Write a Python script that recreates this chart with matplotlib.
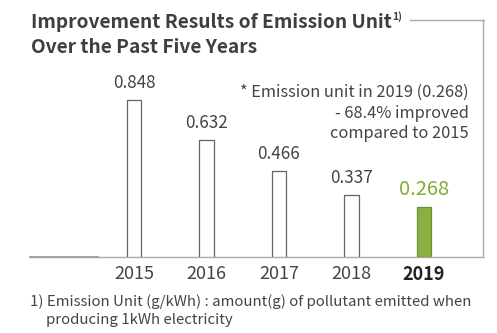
import matplotlib
matplotlib.use("Agg")
import matplotlib.pyplot as plt
from matplotlib.lines import Line2D

plt.rcParams['font.family'] = ['Noto Sans CJK KR', 'DejaVu Sans']

years = ['2015', '2016', '2017', '2018', '2019']
values = [0.848, 0.632, 0.466, 0.337, 0.268]
value_labels = ['0.848', '0.632', '0.466', '0.337', '0.268']

W, H = 497, 333
fig = plt.figure(figsize=(W / 100, H / 100), dpi=100)

def fx(px):
    return px / W

def fy(py):
    return 1 - py / H

# axes box: left 30px, right 483px, baseline at 257px, top at 20px
ax = fig.add_axes([fx(30), fy(257), fx(483 - 30), (257 - 20) / H])
x = list(range(len(years)))
ax.set_xlim(-1.434, 4.814)
ax.set_ylim(0, 237 / 185)

text_col = '#444444'
green = '#8cb040'
green_edge = '#6f8f2f'
green_text = '#80ad33'
light = 'light'

colors = ['white'] * 4 + [green]
edges = ['#666666'] * 4 + [green_edge]
bars = ax.bar(x, values, width=0.2, color=colors, edgecolor=edges,
              linewidth=0.9, zorder=3)
for b in bars:
    b.set_joinstyle('round')

for i, (v, lab) in enumerate(zip(values, value_labels)):
    last = i == len(values) - 1
    ax.annotate(lab, (i, v), xytext=(0, 5.5), textcoords='offset points',
                ha='center', va='bottom',
                fontsize=14.5 if last else 12.3, fontweight=light,
                color=green_text if last else text_col)

ax.set_xticks(x)
ax.set_xticklabels(years, fontsize=13, color=text_col, fontweight=light)
ax.get_xticklabels()[-1].set_fontweight('bold')
ax.get_xticklabels()[-1].set_color('#222222')
ax.tick_params(axis='x', length=0, pad=6)
ax.set_yticks([])
for s in ['left', 'top']:
    ax.spines[s].set_visible(False)
ax.spines['bottom'].set_color('#aaaaaa')
ax.spines['bottom'].set_linewidth(1.0)
ax.spines['right'].set_color('#aaaaaa')
ax.spines['right'].set_linewidth(1.0)
ax.patch.set_visible(False)

# darker stub on the left of the baseline
fig.add_artist(Line2D([fx(30), fx(98)], [fy(257), fy(257)],
                      color='#999999', lw=1.2))
# frame line to the right of the title
fig.add_artist(Line2D([fx(410), fx(483.5)], [fy(20), fy(20)],
                      color='#aaaaaa', lw=1.0))

title_col = '#3f3f3f'
t1 = fig.text(fx(31), fy(28), 'Improvement Results of Emission Unit',
              fontsize=13.8, fontweight='bold', color=title_col, va='baseline')
fig.text(fx(31), fy(53), 'Over the Past Five Years',
         fontsize=13.8, fontweight='bold', color=title_col, va='baseline')
fig.canvas.draw()
bb = t1.get_window_extent()
fig.text(bb.x1 / W, fy(20), '1)', fontsize=7.5, fontweight='bold',
         color=title_col, va='baseline')

note = ['* Emission unit in 2019 (0.268)', '- 68.4% improved',
        'compared to 2015']
for k, line in enumerate(note):
    fig.text(fx(469), fy(97 + 20.5 * k), line, fontsize=11.8, color=text_col,
             fontweight=light, ha='right', va='baseline')

fig.text(fx(30), fy(306),
         '1) Emission Unit (g/kWh) : amount(g) of pollutant emitted when',
         fontsize=10.8, color=text_col, fontweight=light, va='baseline')
fig.text(fx(46), fy(324), 'producing 1kWh electricity',
         fontsize=10.8, color=text_col, fontweight=light, va='baseline')

fig.savefig('out.png', dpi=100)
